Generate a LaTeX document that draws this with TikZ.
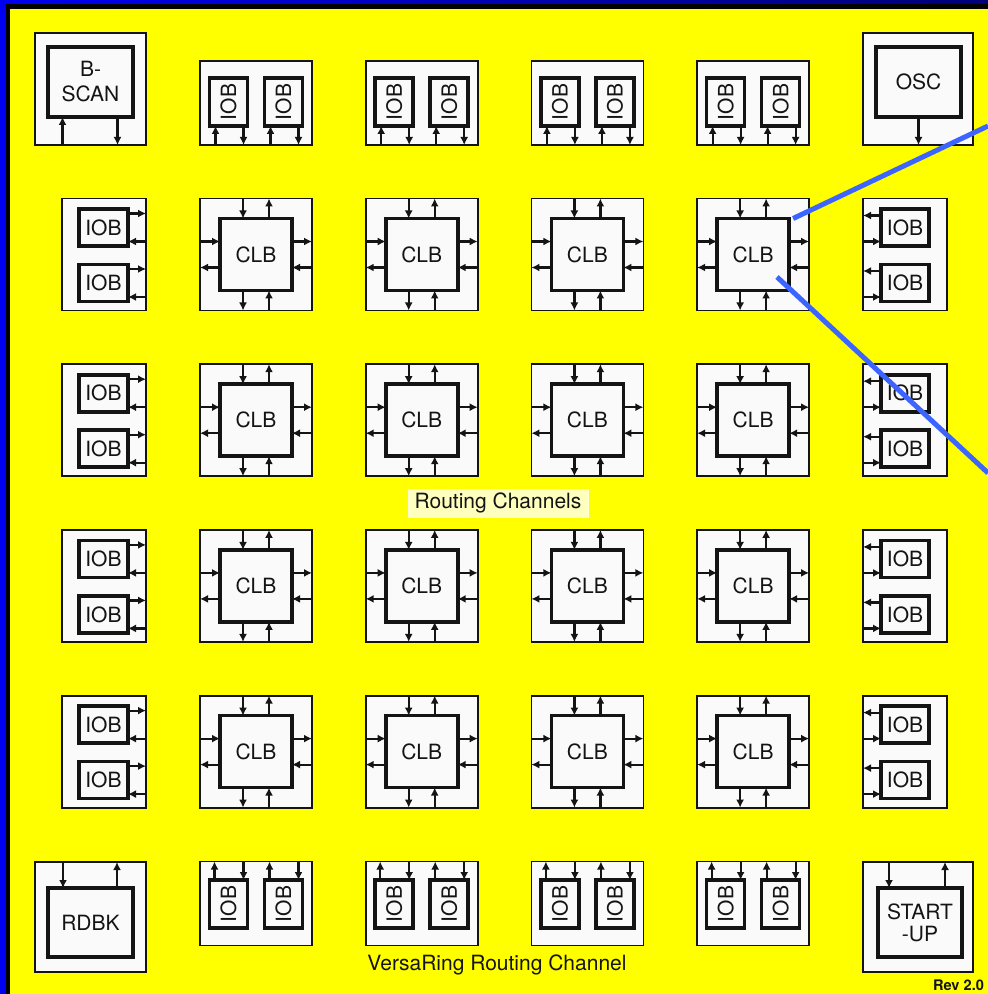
\documentclass[tikz,border=0pt]{standalone}
\usepackage{fontspec}
\setmainfont{TeX Gyre Heros}
\usetikzlibrary{arrows.meta}
\definecolor{chip}{RGB}{255,255,0}
\definecolor{rim}{RGB}{0,0,240}
\definecolor{rimdark}{RGB}{0,0,120}
\definecolor{tilebg}{RGB}{250,250,250}
\definecolor{ink}{RGB}{20,20,20}
\definecolor{lens}{RGB}{60,100,255}
\definecolor{tag}{RGB}{255,255,190}
\begin{document}
\begin{tikzpicture}[x={(0.5pt,0pt)},y={(0pt,-0.5pt)},
  every node/.style={outer sep=0pt, inner sep=0pt, text=ink, font=\fontsize{10.5}{12.5}\selectfont},
  tile/.style={draw=ink, line width=0.9pt, fill=tilebg},
  blk/.style={draw=ink, line width=1.8pt, fill=tilebg},
  sig/.style={draw=ink, line width=1.1pt, -{Latex[length=4pt,width=4pt]}},
  lensline/.style={draw=lens, line width=2.5pt}]
\useasboundingbox (0,0) rectangle (988,994);
\fill[rim] (0,0) rectangle (988,994);
\shade[left color=rim, right color=rimdark] (6,0) rectangle (988,4);
\fill[black] (6,4) rectangle (988,994);
\fill[chip] (10,9) rectangle (988,994);
\foreach \row/\y in {1/254.5,2/420.2,3/585.9,4/751.6}
  \foreach \col/\x in {1/256,2/421.7,3/587.4,4/753.1} {
    \node[tile, minimum size=56pt] (cell\row\col) at (\x,\y) {};
    \node[blk, minimum size=36pt] (clb\row\col) at (\x,\y) {CLB};
    \draw[sig] ([xshift=-6.5pt]cell\row\col.north) -- ([xshift=-6.5pt]clb\row\col.north);
    \draw[sig] ([xshift=6.5pt]clb\row\col.north) -- ([xshift=6.5pt]cell\row\col.north);
    \draw[sig] ([xshift=-6.5pt]clb\row\col.south) -- ([xshift=-6.5pt]cell\row\col.south);
    \draw[sig] ([xshift=6.5pt]cell\row\col.south) -- ([xshift=6.5pt]clb\row\col.south);
    \draw[sig] ([yshift=6.5pt]cell\row\col.west) -- ([yshift=6.5pt]clb\row\col.west);
    \draw[sig] ([yshift=-6.5pt]clb\row\col.west) -- ([yshift=-6.5pt]cell\row\col.west);
    \draw[sig] ([yshift=6.5pt]clb\row\col.east) -- ([yshift=6.5pt]cell\row\col.east);
    \draw[sig] ([yshift=-6.5pt]cell\row\col.east) -- ([yshift=-6.5pt]clb\row\col.east);
  }
\foreach \row/\y in {1/254.5,2/420.2,3/585.9,4/751.6} {
  \node[tile, minimum width=42pt, minimum height=56pt] (west\row) at (104,\y) {};
  \node[blk, minimum width=24.5pt, minimum height=18.5pt] (westa\row) at (103.5,\y-27) {IOB};
  \node[blk, minimum width=24.5pt, minimum height=18.5pt] (westb\row) at (103.5,\y+28.5) {IOB};
  \foreach \io in {westa\row,westb\row} {
    \draw[sig] ([yshift=7pt]\io.east) -- ([yshift=7pt]\io.east -| west\row.east);
    \draw[sig] ([yshift=-7pt]\io.east -| west\row.east) -- ([yshift=-7pt]\io.east);
  }
  \node[tile, minimum width=42pt, minimum height=56pt] (east\row) at (905,\y) {};
  \node[blk, minimum width=24pt, minimum height=18.5pt] (easta\row) at (905,\y-27) {IOB};
  \node[blk, minimum width=24pt, minimum height=18.5pt] (eastb\row) at (905,\y+28.5) {IOB};
  \foreach \io in {easta\row,eastb\row} {
    \draw[sig] ([yshift=6pt]\io.west) -- ([yshift=6pt]\io.west -| east\row.west);
    \draw[sig] ([yshift=-7pt]\io.west -| east\row.west) -- ([yshift=-7pt]\io.west);
  }
}
\foreach \col/\x in {1/256,2/421.7,3/587.4,4/753.1} {
  \node[tile, minimum width=56pt, minimum height=42pt] (north\col) at (\x,103) {};
  \node[blk, minimum width=19pt, minimum height=24pt] (northa\col) at (\x-27.5,102) {\rotatebox{90}{IOB}};
  \node[blk, minimum width=19pt, minimum height=24pt] (northb\col) at (\x+27.5,102) {\rotatebox{90}{IOB}};
  \foreach \io in {northa\col,northb\col} {
    \draw[sig] ([xshift=-6.5pt]\io.south |- north\col.south) -- ([xshift=-6.5pt]\io.south);
    \draw[sig] ([xshift=7.5pt]\io.south) -- ([xshift=7.5pt]\io.south |- north\col.south);
  }
  \node[tile, minimum width=56pt, minimum height=42pt] (south\col) at (\x,903.5) {};
  \node[blk, minimum width=19pt, minimum height=24pt] (southa\col) at (\x-27.5,904) {\rotatebox{90}{IOB}};
  \node[blk, minimum width=19pt, minimum height=24pt] (southb\col) at (\x+27.5,904) {\rotatebox{90}{IOB}};
  \foreach \io in {southa\col,southb\col} {
    \draw[sig] ([xshift=-7pt]\io.north) -- ([xshift=-7pt]\io.north |- south\col.north);
    \draw[sig] ([xshift=7.5pt]\io.north |- south\col.north) -- ([xshift=7.5pt]\io.north);
  }
}
\node[tile, minimum width=55.5pt, minimum height=56pt] (bscancell) at (90.5,89) {};
\node[blk, minimum width=42.5pt, minimum height=35pt, align=center] (bscan) at (90.5,82) {B-\\SCAN};
\draw[sig] ([xshift=-14pt]bscan.south |- bscancell.south) -- ([xshift=-14pt]bscan.south);
\draw[sig] ([xshift=13.5pt]bscan.south) -- ([xshift=13.5pt]bscan.south |- bscancell.south);
\node[tile, minimum width=55pt, minimum height=56pt] (osccell) at (918,89) {};
\node[blk, minimum width=42.5pt, minimum height=35pt] (osc) at (918.5,82) {OSC};
\draw[sig] (osc.south) -- (osc.south |- osccell.south);
\node[tile, minimum width=55.5pt, minimum height=55pt] (rdbkcell) at (90.5,917) {};
\node[blk, minimum width=42.5pt, minimum height=34.5pt] (rdbk) at (90.5,922.5) {RDBK};
\draw[sig] ([xshift=-13.75pt]rdbk.north |- rdbkcell.north) -- ([xshift=-13.75pt]rdbk.north);
\draw[sig] ([xshift=13.25pt]rdbk.north) -- ([xshift=13.25pt]rdbk.north |- rdbkcell.north);
\node[tile, minimum width=55pt, minimum height=55pt] (startcell) at (918,917) {};
\node[blk, minimum width=42pt, minimum height=34.5pt, align=center, font=\fontsize{10.5}{11}\selectfont] (start) at (920,922.5) {START\\-UP};
\draw[sig] ([xshift=-15.5pt]start.north |- startcell.north) -- ([xshift=-15.5pt]start.north);
\draw[sig] ([xshift=12.5pt]start.north) -- ([xshift=12.5pt]start.north |- startcell.north);
\node[fill=tag, draw=tag!60!white, line width=0.5pt, minimum width=90pt, minimum height=14pt] (chan) at (498,503) {Routing Channels};
\node[anchor=base] (ring) at (497,970) {VersaRing Routing Channel};
\node[anchor=base, font=\bfseries\fontsize{7.3}{9}\selectfont] (rev) at (958.5,990) {Rev 2.0};
\coordinate (lensA) at (988,126);
\coordinate (lensB0) at (777,277);
\coordinate (lensB) at (988,473);
\draw[lensline] ([xshift=2pt]clb14.north east) -- (lensA);
\draw[lensline] (lensB0) -- (lensB);
\end{tikzpicture}
\end{document}
